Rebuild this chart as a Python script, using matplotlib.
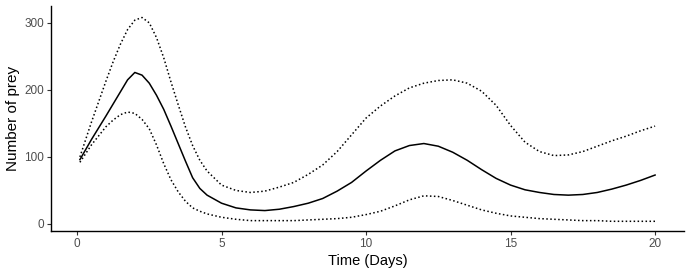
import matplotlib
matplotlib.use("Agg")
import matplotlib.pyplot as plt

plt.rcParams['font.family'] = ['Liberation Sans', 'DejaVu Sans']

time = [0.1, 0.5, 1.0, 1.25, 1.5, 1.75, 2.0, 2.25, 2.5, 2.75, 3.0, 3.25, 3.5, 3.75,
        4.0, 4.25, 4.5, 5.0, 5.5, 6.0, 6.5, 7.0,
        7.5, 8.0, 8.5, 9.0, 9.5, 10.0, 10.5, 11.0, 11.5, 12.0, 12.5, 13.0, 13.5,
        14.0, 14.5, 15.0, 15.5, 16.0, 16.5, 17.0, 17.5, 18.0, 18.5, 19.0, 19.5, 20.0]

median = [96, 126, 161, 179, 197, 215, 226, 222, 210, 192, 171, 146, 120, 94,
          69, 53, 43, 31, 24, 21, 20, 22,
          26, 31, 38, 49, 62, 79, 95, 109, 117, 120, 116, 107, 95,
          81, 68, 58, 51, 47, 44, 43, 44, 47, 52, 58, 65, 73]

upper = [100, 152, 213, 242, 268, 290, 304, 308, 300, 278, 248, 212, 178, 145,
         117, 95, 79, 58, 50, 47, 49, 55,
         62, 74, 88, 108, 133, 158, 176, 191, 203, 210, 214, 215, 210,
         198, 177, 147, 122, 108, 102, 103, 108, 116, 124, 131, 139, 146]

lower = [92, 118, 145, 155, 163, 167, 165, 156, 142, 118, 90, 66, 48, 34,
         24, 19, 15, 10, 7, 5, 5, 5,
         5, 6, 7, 8, 10, 14, 19, 27, 36, 42, 41, 35, 28,
         21, 16, 12, 10, 8, 7, 6, 5, 5, 4, 4, 4, 4]

xticks = [0, 5, 10, 15, 20]
yticks = [0, 100, 200, 300]

fig = plt.figure(figsize=(6.92, 2.77), dpi=100)
ax = fig.add_axes([0.0737, 0.166, 0.9147, 0.812])

ax.plot(time, upper, color='black', lw=1.1, linestyle=(0, (1, 1.6)))
ax.plot(time, lower, color='black', lw=1.1, linestyle=(0, (1, 1.6)))
ax.plot(time, median, color='black', lw=1.1)

ax.set_xlim(-0.9, 21.0)
ax.set_ylim(-10.5, 325)
ax.set_xticks(xticks)
ax.set_yticks(yticks)
for s in ['top', 'right']:
    ax.spines[s].set_visible(False)
for s in ['left', 'bottom']:
    ax.spines[s].set_linewidth(1.0)
    ax.spines[s].set_color('black')
ax.tick_params(axis='both', length=3, width=0.8, color='#333333',
               labelsize=8.5, labelcolor='#4D4D4D', pad=2)
ax.set_xlabel('Time (Days)', fontsize=10.5, labelpad=3)
ax.set_ylabel('Number of prey', fontsize=11, labelpad=3)

fig.savefig('out.png', dpi=100)
